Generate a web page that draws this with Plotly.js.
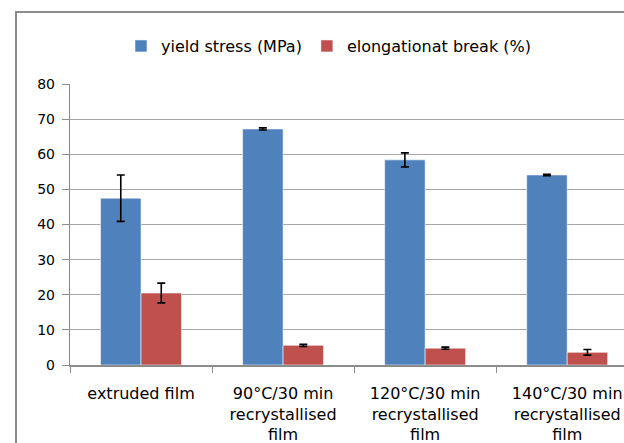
<!DOCTYPE html>
<html>
<head>
<meta charset="utf-8">
<script src="https://cdn.plot.ly/plotly-3.0.1.min.js"></script>
<style>
  html, body { margin: 0; padding: 0; overflow: hidden; background: #fff; }
  #chart { position: absolute; left: 0; top: 0; width: 624px; height: 443px; overflow: hidden; }
  #frame { position: absolute; left: 15px; top: 11px; width: 609px; height: 432px; box-sizing: border-box;
           border-left: 2px solid #8a8a8a; border-top: 2px solid #8a8a8a; pointer-events: none; }
</style>
</head>
<body>
<div id="chart"></div>
<div id="frame"></div>
<script>
const categories = [
  "extruded film",
  "90°C/30 min<br>recrystallised<br>film",
  "120°C/30 min<br>recrystallised<br>film",
  "140°C/30 min<br>recrystallised<br>film"
];
const yieldStress = [47.5, 67.2, 58.4, 54.1];
const yieldStressErr = [6.6, 0.3, 2.0, 0.2];
const elongation = [20.5, 5.6, 4.8, 3.6];
const elongationErr = [2.8, 0.3, 0.3, 0.8];
const seriesNames = ["yield stress (MPa)", "elongationat break (%)"];
const yTicks = [0, 10, 20, 30, 40, 50, 60, 70, 80];

const font = "DejaVu Sans, Liberation Sans, sans-serif";

const traces = [
  {
    type: "bar", name: seriesNames[0], x: categories, y: yieldStress,
    marker: { color: "#4F81BD", line: { color: "rgba(255,255,255,0.55)", width: 1 } },
    error_y: { type: "data", array: yieldStressErr, visible: true, color: "#000", thickness: 1.6, width: 4 }
  },
  {
    type: "bar", name: seriesNames[1], x: categories, y: elongation,
    marker: { color: "#C0504D", line: { color: "rgba(255,255,255,0.55)", width: 1 } },
    error_y: { type: "data", array: elongationErr, visible: true, color: "#000", thickness: 1.6, width: 4 }
  }
];

const layout = {
  width: 624, height: 443,
  margin: { l: 70, r: 0, t: 84, b: 78 },
  paper_bgcolor: "#fff", plot_bgcolor: "#fff",
  barmode: "group", bargap: 0.43, bargroupgap: 0,
  font: { family: font, size: 13, color: "#000" },
  showlegend: true,
  legend: {
    orientation: "h", x: 0.4666, xanchor: "center", y: 1.135, yanchor: "middle",
    font: { family: font, size: 16, color: "#000" }, itemwidth: 30, traceorder: "normal"
  },
  xaxis: {
    type: "category", range: [-0.5, 3.4], tickson: "boundaries", ticks: "outside", ticklen: 6, tickcolor: "#8c8c8c",
    showline: true, linecolor: "#8c8c8c", linewidth: 1.5, showgrid: false, automargin: false,
    tickfont: { family: font, size: 16, color: "#000" }, ticklabelstandoff: 13
  },
  yaxis: {
    range: [0, 80], tickvals: yTicks, ticktext: yTicks.map(String),
    ticks: "outside", ticklen: 7, tickcolor: "#8c8c8c",
    showline: true, linecolor: "#8c8c8c", linewidth: 1.2,
    showgrid: true, gridcolor: "#a6a6a6", gridwidth: 1, zeroline: false,
    tickfont: { family: font, size: 14, color: "#000" }, ticklabelstandoff: 4
  }
};

Plotly.newPlot("chart", traces, layout, { displayModeBar: false, staticPlot: true });
</script>
</body>
</html>
